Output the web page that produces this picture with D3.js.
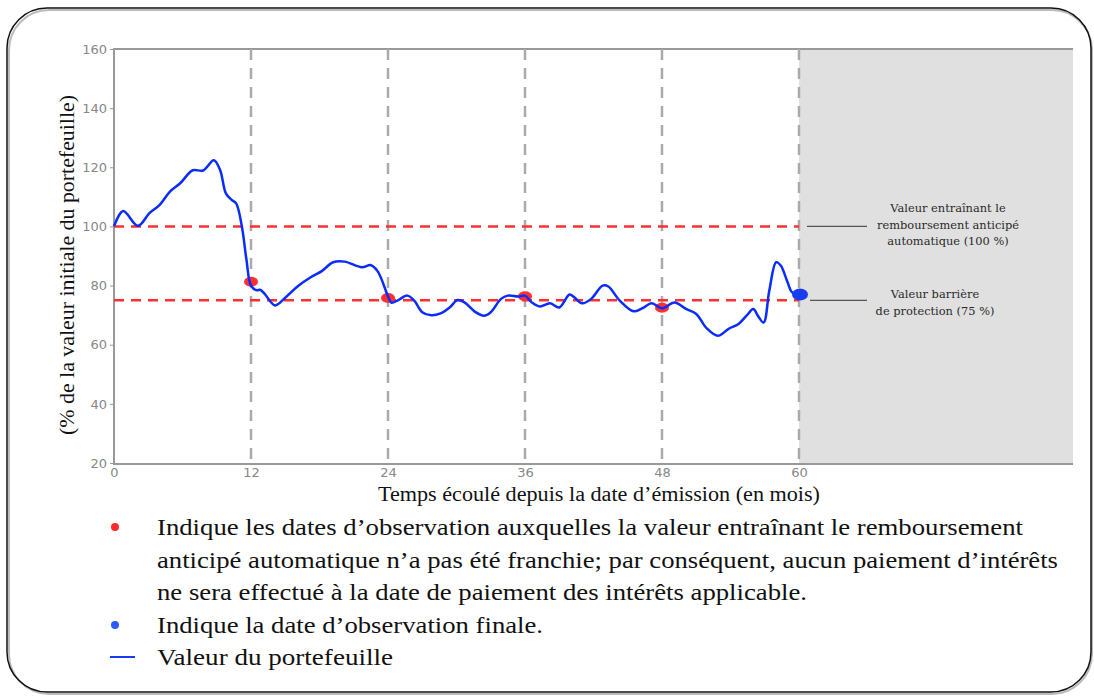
<!DOCTYPE html>
<html>
<head>
  <meta charset="utf-8">
  <title>Valeur du portefeuille</title>
<script src="https://d3js.org/d3.v7.min.js"></script>
  <style>
    body { margin: 0; background: #fff; }
    .tick text { font: 13px "DejaVu Sans", sans-serif; fill: #888; }
    .axis-title { font-family: "Liberation Serif", serif; font-size: 20px; fill: #111; }
    .note { font-family: "DejaVu Serif", serif; font-size: 11.4px; fill: #2a2a2a; }
    .legend { font-family: "Liberation Serif", "Times New Roman", serif; font-size: 23px; fill: #111; }
  </style>
</head>
<body>
  <script>
    // portfolio value path (month, % of initial value)
    const months = [0, 0.8, 2.1, 3.1, 4.0, 4.9, 5.8, 6.9, 7.8, 8.75, 9.3, 9.8, 10.3, 10.7, 11.2, 11.6, 12.0, 12.5, 12.8, 13.2,
      14.1, 15.0, 16.1, 17.3, 18.2, 19.2, 20.2, 21.7, 22.5, 23.1, 24.0, 24.3, 24.9, 25.7, 26.3, 27.0, 27.8, 28.6, 29.4,
      30.1, 30.7, 31.6, 32.4, 33.0, 33.9, 34.5, 35.4, 36.0, 36.6, 37.3, 38.2, 39.0, 39.9, 40.3, 41.0, 41.8, 42.8, 43.3,
      44.3, 45.5, 46.3, 47.1, 48.0, 49.1, 50.1, 51.0, 51.9, 52.9, 53.8, 54.7, 55.4, 56.0, 56.4, 56.9, 57.4, 58.0, 58.4,
      59.0, 59.4, 60];
    const values = [100, 105.2, 100.2, 104.5, 107.3, 111.8, 114.6, 119, 118.9, 122.4, 119, 111.2, 109, 107.8, 100, 88.8, 80, 78.4, 78.6, 77.2,
      73.3, 75.9, 79.8, 83, 84.9, 87.9, 88.1, 86.2, 86.9, 84.8, 76.4, 74.2, 75.1, 76.6, 74.9, 71, 70, 70.6, 72.6,
      75.1, 74.3, 71.2, 69.8, 71, 75.5, 76.6, 76.3, 76.6, 74.3, 72.9, 74, 72.6, 77, 76.1, 74, 75.5, 80, 79.7,
      74.9, 71.3, 72.4, 74, 72.3, 74.3, 72.1, 70.4, 65.6, 63, 65.3, 67, 69.8, 72.1, 69.8, 67.5, 78.3, 87.9, 86.8,
      81.1, 77.7, 77];

    const obsMonths = [12, 24, 36, 48];
    const obsValues = [81.3, 75.8, 76.4, 72.5];
    const finalMonth = [60];
    const finalValue = [77];

    const xTicks = [0, 12, 24, 36, 48, 60];
    const yTicks = [20, 40, 60, 80, 100, 120, 140, 160];
    const levels = [100, 75];

    const notes = [
      { lines: ["Valeur entraînant le", "remboursement anticipé", "automatique (100 %)"], level: 100 },
      { lines: ["Valeur barrière", "de protection (75 %)"], level: 75 }
    ];
    const legendLines = [
      "Indique les dates d’observation auxquelles la valeur entraînant le remboursement",
      "anticipé automatique n’a pas été franchie; par conséquent, aucun paiement d’intérêts",
      "ne sera effectué à la date de paiement des intérêts applicable.",
      "Indique la date d’observation finale.",
      "Valeur du portefeuille"
    ];

    const W = 1094, H = 696;
    const pLeft = 114, pRight = 1073, pTop = 49, pBottom = 463;

    const svg = d3.select("body").append("svg")
        .attr("width", W)
        .attr("height", H);

    // outer rounded frame
    svg.append("rect")
        .attr("x", 9).attr("y", 10).attr("width", 1083).attr("height", 684)
        .attr("rx", 40).attr("fill", "none").attr("stroke", "#bbb").attr("stroke-width", 2);
    svg.append("rect")
        .attr("x", 7).attr("y", 8).attr("width", 1084).attr("height", 684)
        .attr("rx", 40).attr("fill", "none").attr("stroke", "#111").attr("stroke-width", 1.5);

    const x = d3.scaleLinear().domain([0, 84]).range([pLeft, pRight]);
    const y = d3.scaleLinear().domain([20, 160]).range([pBottom, pTop]);

    // grey region after maturity
    svg.append("rect")
        .attr("x", x(60)).attr("y", pTop)
        .attr("width", x(84) - x(60)).attr("height", pBottom - pTop + 1)
        .attr("fill", "#e0e0e0");

    // axes
    svg.append("g")
        .attr("transform", "translate(" + pLeft + ",0)")
        .call(d3.axisLeft(y).tickValues(yTicks).tickSize(4).tickPadding(3))
        .call(g => g.select(".domain").remove())
        .call(g => g.selectAll(".tick line").attr("stroke", "#999"));

    svg.append("g")
        .attr("transform", "translate(0," + (pBottom + 1) + ")")
        .call(d3.axisBottom(x).tickValues(xTicks).tickSize(0).tickPadding(4))
        .call(g => g.select(".domain").remove());

    svg.append("path")
        .attr("d", "M" + pRight + "," + pTop + "H" + pLeft + "V" + (pBottom + 1) + "H" + pRight)
        .attr("fill", "none").attr("stroke", "#999").attr("stroke-width", 2);

    // observation dates
    svg.selectAll(".vline")
        .data(xTicks.slice(1))
        .enter().append("line")
        .attr("class", "vline")
        .attr("x1", d => x(d)).attr("x2", d => x(d))
        .attr("y1", pTop).attr("y2", pBottom)
        .attr("stroke", "#aaa").attr("stroke-width", 2.5)
        .attr("stroke-dasharray", "11,8");

    // 100% and 75% levels
    svg.selectAll(".level")
        .data(levels)
        .enter().append("line")
        .attr("class", "level")
        .attr("x1", pLeft).attr("x2", x(60))
        .attr("y1", d => y(d)).attr("y2", d => y(d))
        .attr("stroke", "#ff3030").attr("stroke-width", 2.5)
        .attr("stroke-dasharray", "10,7");

    const pts = months.map((m, i) => [m, values[i]]);
    const line = d3.line()
        .x(d => x(d[0]))
        .y(d => y(d[1]))
        .curve(d3.curveCatmullRom.alpha(0.5));

    svg.selectAll(".obs")
        .data(obsMonths)
        .enter().append("ellipse")
        .attr("class", "obs")
        .attr("cx", d => x(d))
        .attr("cy", (d, i) => y(obsValues[i]))
        .attr("rx", 7).attr("ry", 5)
        .attr("fill", "#ff3030");

    svg.append("path")
        .datum(pts)
        .attr("d", line)
        .attr("fill", "none")
        .attr("stroke", "#0a2cff")
        .attr("stroke-width", 2.5);

    svg.selectAll(".final")
        .data(finalMonth)
        .enter().append("ellipse")
        .attr("class", "final")
        .attr("cx", d => x(d) + 1)
        .attr("cy", (d, i) => y(finalValue[i]))
        .attr("rx", 8).attr("ry", 6)
        .attr("fill", "#1a3cf0");

    // annotations
    notes.forEach((n, k) => {
      const ly = y(n.level);
      svg.append("line")
          .attr("x1", x(60) + 8 + k * 3).attr("x2", 867)
          .attr("y1", ly).attr("y2", ly)
          .attr("stroke", "#555").attr("stroke-width", 1.2);
      const cx = k === 0 ? 948 : 935;
      const y0 = k === 0 ? ly - 18 : ly - 6;
      const t = svg.append("text").attr("class", "note").attr("text-anchor", "middle");
      n.lines.forEach((s, i) => {
        t.append("tspan").attr("x", cx).attr("y", y0 + i * 16.5 + 4).text(s);
      });
    });

    // axis titles
    svg.append("text")
        .attr("class", "axis-title")
        .attr("x", 378).attr("y", 501)
        .attr("textLength", 442).attr("lengthAdjust", "spacingAndGlyphs")
        .text("Temps écoulé depuis la date d’émission (en mois)");

    svg.append("text")
        .attr("class", "axis-title")
        .attr("transform", "translate(74,435) rotate(-90)")
        .attr("textLength", 340).attr("lengthAdjust", "spacingAndGlyphs")
        .text("(% de la valeur initiale du portefeuille)");

    // legend
    const legY = [535, 568, 600, 633, 665];
    const legLen = [866, 901, 650, 386, 236];
    legendLines.forEach((s, i) => {
      svg.append("text")
          .attr("class", "legend")
          .attr("x", 157).attr("y", legY[i])
          .attr("textLength", legLen[i]).attr("lengthAdjust", "spacingAndGlyphs")
          .text(s);
    });
    svg.append("circle").attr("cx", 115).attr("cy", 527).attr("r", 4).attr("fill", "#ff2a2a");
    svg.append("circle").attr("cx", 115).attr("cy", 625).attr("r", 4).attr("fill", "#2a5cff");
    svg.append("line").attr("x1", 110).attr("x2", 135).attr("y1", 657).attr("y2", 657)
        .attr("stroke", "#1a3cf0").attr("stroke-width", 2);
  </script>
</body>
</html>
